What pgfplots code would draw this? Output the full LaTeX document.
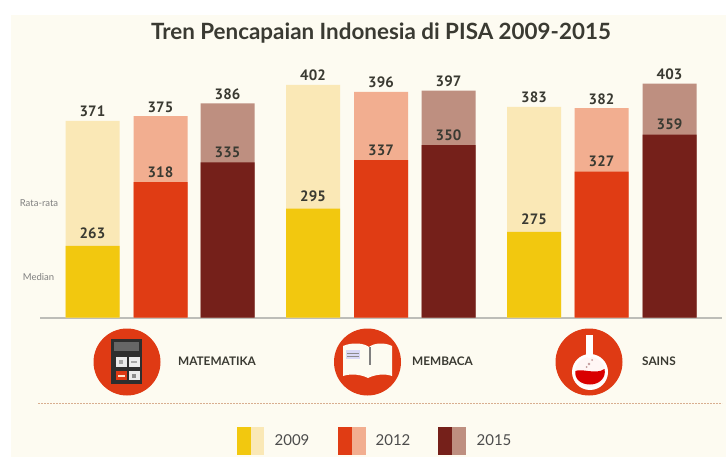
\documentclass[border=0pt]{standalone}
\usepackage{pgfplots}
\pgfplotsset{compat=1.18}
\usepackage{fontspec}
\setmainfont{Lato}
\newfontfamily\numfont{PT Sans}
\definecolor{paper}{HTML}{FDFBF1}
\definecolor{yelD}{HTML}{F2C80F}
\definecolor{yelL}{HTML}{FAE8B6}
\definecolor{redD}{HTML}{E03C14}
\definecolor{redL}{HTML}{F2AE90}
\definecolor{brnD}{HTML}{75201A}
\definecolor{brnL}{HTML}{BE8F80}
\definecolor{ink}{HTML}{3A3A32}
\definecolor{iconbg}{HTML}{DF3A14}
\definecolor{divider}{HTML}{D8AE90}
\definecolor{axisline}{HTML}{BDBDB8}
\begin{document}
\begin{tikzpicture}[x=1pt,y=-1pt]
% page and paper panel, in units of one picture pixel
\fill[white] (0,0) rectangle (726,457);
\fill[paper] (11,15) rectangle (726,457);
\draw[axisline, line width=1.2pt] (40,318) -- (722,318);
\begin{axis}[
  at={(0pt,-317.5pt)}, anchor=south west,
  scale only axis, width=726pt, height=290pt,
  xmin=0, xmax=726, ymin=201, ymax=451.6,
  hide axis, clip=false,
  ybar, bar shift=0pt, bar width=54pt,
  every axis plot/.append style={draw=none},
  nodes near coords, point meta=y,
  /pgf/number format/assume math mode=true,
  every node near coord/.append style={font=\numfont\bfseries\fontsize{15}{16}\selectfont, text=ink, inner sep=1.5pt},
  lightlabel/.style={every node near coord/.append style={yshift=2pt}},
  darklabel/.style={every node near coord/.append style={yshift=3pt}},
  yellowlabel/.style={every node near coord/.append style={yshift=5pt}},
]
% group means (light) first, medians (dark) on top
\addplot[fill=yelL, lightlabel] coordinates {(92.5,371) (313,402) (534,383)};
\addplot[fill=redL, lightlabel] coordinates {(160.5,375) (381,396) (601.5,382)};
\addplot[fill=brnL, lightlabel] coordinates {(227.5,386) (448.5,397) (669.5,403)};
\addplot[fill=yelD, yellowlabel] coordinates {(92.5,263) (313,295) (534,275)};
\addplot[fill=redD, darklabel] coordinates {(160.5,318) (381,337) (601.5,327)};
\addplot[fill=brnD, darklabel] coordinates {(227.5,335) (448.5,350) (669.5,359)};
\end{axis}
% divider
\draw[divider, line width=1pt, dash pattern=on 2pt off 1pt] (38,403) -- (722,403);
% title and side notes
\node[font=\bfseries\fontsize{22.4}{24}\selectfont, text=ink] at (381,33) {Tren Pencapaian Indonesia di PISA 2009-2015};
\node[font=\fontsize{9.5}{10}\selectfont, text=black!50] at (39,203) {Rata-rata};
\node[font=\fontsize{9.5}{10}\selectfont, text=black!50] at (38.5,277) {Median};
% subject icons
\fill[iconbg] (127,362) circle (33.5);
\fill[iconbg] (367.5,362) circle (33.5);
\fill[iconbg] (589,362) circle (33.5);
% calculator
\fill[black!82] (111,339) rectangle (142,384);
\fill[black!60] (114,342) rectangle (139,351);
\fill[white!92!black] (116,357) rectangle (126.5,367);
\fill[white!92!black] (128.5,357) rectangle (139.5,367);
\fill[iconbg] (116,371) rectangle (126.5,380);
\fill[white!92!black] (128.5,371) rectangle (139.5,380);
\fill[white!80!orange] (118,374.5) rectangle (124.5,376.5);
\fill[black!45] (132,374) rectangle (136,378);
\fill[black!35] (119,360) rectangle (123,364);
\fill[black!35] (131,361) rectangle (137,363);
% open book
\fill[paper] (343,346) .. controls (352,342) and (364,343) .. (369,347) .. controls (374,343) and (384,342) .. (392,346) -- (392,376) .. controls (384,373) and (374,375) .. (368,378) .. controls (362,375) and (352,373) .. (343,376) -- cycle;
\draw[black!50, line width=1.4pt] (370,347) -- (370,365);
\fill[black!25!blue!15!white] (346,350) rectangle (360,359);
\draw[black!45, line width=0.7pt] (347,353) -- (359,353) (347,356.5) -- (359,356.5);
% flask
\fill[white] (586,335) rectangle (592.5,356);
\fill[white] (590,372) circle (18);
\fill[paper!70!red!12] (590,372) circle (15);
\fill[white] (587.5,335) rectangle (591,358);
\fill[red!85!black] (575.5,371) .. controls (582,368) and (596,375) .. (604.5,369) .. controls (606.5,378) and (599,384.5) .. (590,384.5) .. controls (581,384.5) and (574,379) .. (575.5,371) -- cycle;
\fill[red!40!black!40] (589,364) circle (1.3) (592,360) circle (1) (586.5,367) circle (1);
% subject names
\node[font=\bfseries\fontsize{11.8}{13}\selectfont, text=ink] at (217,361) {MATEMATIKA};
\node[font=\bfseries\fontsize{11.8}{13}\selectfont, text=ink] at (442.5,361) {MEMBACA};
\node[font=\bfseries\fontsize{11.8}{13}\selectfont, text=ink] at (659,361) {SAINS};
% key
\fill[yelD] (237,427) rectangle (251,455); \fill[yelL] (251,427) rectangle (264,455);
\fill[redD] (338,427) rectangle (352,455); \fill[redL] (352,427) rectangle (366,455);
\fill[brnD] (438,427) rectangle (452,455); \fill[brnL] (452,427) rectangle (466,455);
\node[font=\fontsize{15}{17}\selectfont, text=black!70] at (292,440) {2009};
\node[font=\fontsize{15}{17}\selectfont, text=black!70] at (393,440) {2012};
\node[font=\fontsize{15}{17}\selectfont, text=black!70] at (494,440) {2015};
\end{tikzpicture}
\end{document}
